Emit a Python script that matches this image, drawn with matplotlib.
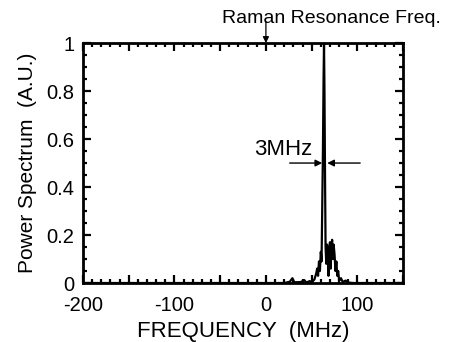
import matplotlib
matplotlib.use('Agg')
import matplotlib.pyplot as plt
from matplotlib.ticker import MultipleLocator

# spectrum (MHz, arbitrary units)
freq = [-200, 20, 26, 29, 31, 38, 42, 44, 48, 50, 53, 55, 56, 57, 58, 59, 60,
        60.8, 61.5, 62.3, 63, 63.5, 64, 64.6, 65.2, 66, 66.8, 67.6, 68.4,
        69.2, 70, 70.8, 71.6, 72.4, 73.2, 74, 75, 76, 77, 78, 79, 80, 82,
        84, 87, 90, 95, 150]
power = [0, 0, 0.005, 0.02, 0.003, 0.004, 0.012, 0.002, 0.008, 0.002, 0.015,
         0.04, 0.06, 0.03, 0.09, 0.05, 0.13, 0.09, 0.30, 0.55, 0.85, 1.0,
         0.80, 0.45, 0.15, 0.08, 0.16, 0.12, 0.03, 0.14, 0.17, 0.06, 0.16,
         0.18, 0.10, 0.16, 0.12, 0.05, 0.09, 0.03, 0.05, 0.01, 0.02, 0.004,
         0.01, 0.002, 0, 0]

xticks = [-200, -150, -100, -50, 0, 50, 100, 150]
xticklabels = ['-200', '', '-100', '', '0', '', '100', '']
yticks = [0, 0.2, 0.4, 0.6, 0.8, 1.0]
yticklabels = ['0', '0.2', '0.4', '0.6', '0.8', '1']

resonance = 0      # Raman resonance frequency, MHz
width_left = 61.5  # 3MHz width markers
width_right = 67
width_level = 0.5

plt.rcParams['font.family'] = ['Liberation Sans', 'DejaVu Sans']

fig = plt.figure(figsize=(4.53, 3.42), dpi=100)
ax = fig.add_axes([0.183, 0.1725, 0.707, 0.7015])

ax.plot(freq, power, color='black', lw=1.6)

ax.set_xlim(-200, 150)
ax.set_ylim(0, 1)
ax.set_xticks(xticks)
ax.set_xticklabels(xticklabels)
ax.set_yticks(yticks)
ax.set_yticklabels(yticklabels)
ax.xaxis.set_minor_locator(MultipleLocator(10))
ax.yaxis.set_minor_locator(MultipleLocator(0.05))
ax.tick_params(which='both', direction='in', top=True, right=True,
               width=1.6, labelsize=14.5)
ax.tick_params(axis='x', which='major', pad=9)
ax.tick_params(axis='y', which='major', pad=6)
ax.tick_params(which='major', length=6)
ax.tick_params(which='minor', length=3)
for s in ax.spines.values():
    s.set_linewidth(2)

ax.set_xlabel('FREQUENCY  (MHz)', fontsize=16, labelpad=5)
ax.set_ylabel('Power Spectrum  (A.U.)', fontsize=15, labelpad=7)

# resonance marker above the frame
ax.annotate('', xy=(resonance, 1.0), xytext=(resonance, 1.09),
            annotation_clip=False,
            arrowprops=dict(arrowstyle='-|>', color='black', lw=0.9,
                            mutation_scale=9, shrinkA=0, shrinkB=0))
ax.text(-48, 1.085, 'Raman Resonance Freq.', fontsize=14, ha='left',
        va='baseline', clip_on=False)

# linewidth arrows
ax.annotate('', xy=(width_left, width_level), xytext=(26, width_level),
            arrowprops=dict(arrowstyle='-|>', color='black', lw=1.0,
                            mutation_scale=10, shrinkA=0, shrinkB=0))
ax.annotate('', xy=(width_right, width_level), xytext=(103, width_level),
            arrowprops=dict(arrowstyle='-|>', color='black', lw=1.0,
                            mutation_scale=10, shrinkA=0, shrinkB=0))
ax.text(50.5, 0.557, '3MHz', fontsize=16, ha='right', va='center')

fig.savefig('out.png', dpi=100)
